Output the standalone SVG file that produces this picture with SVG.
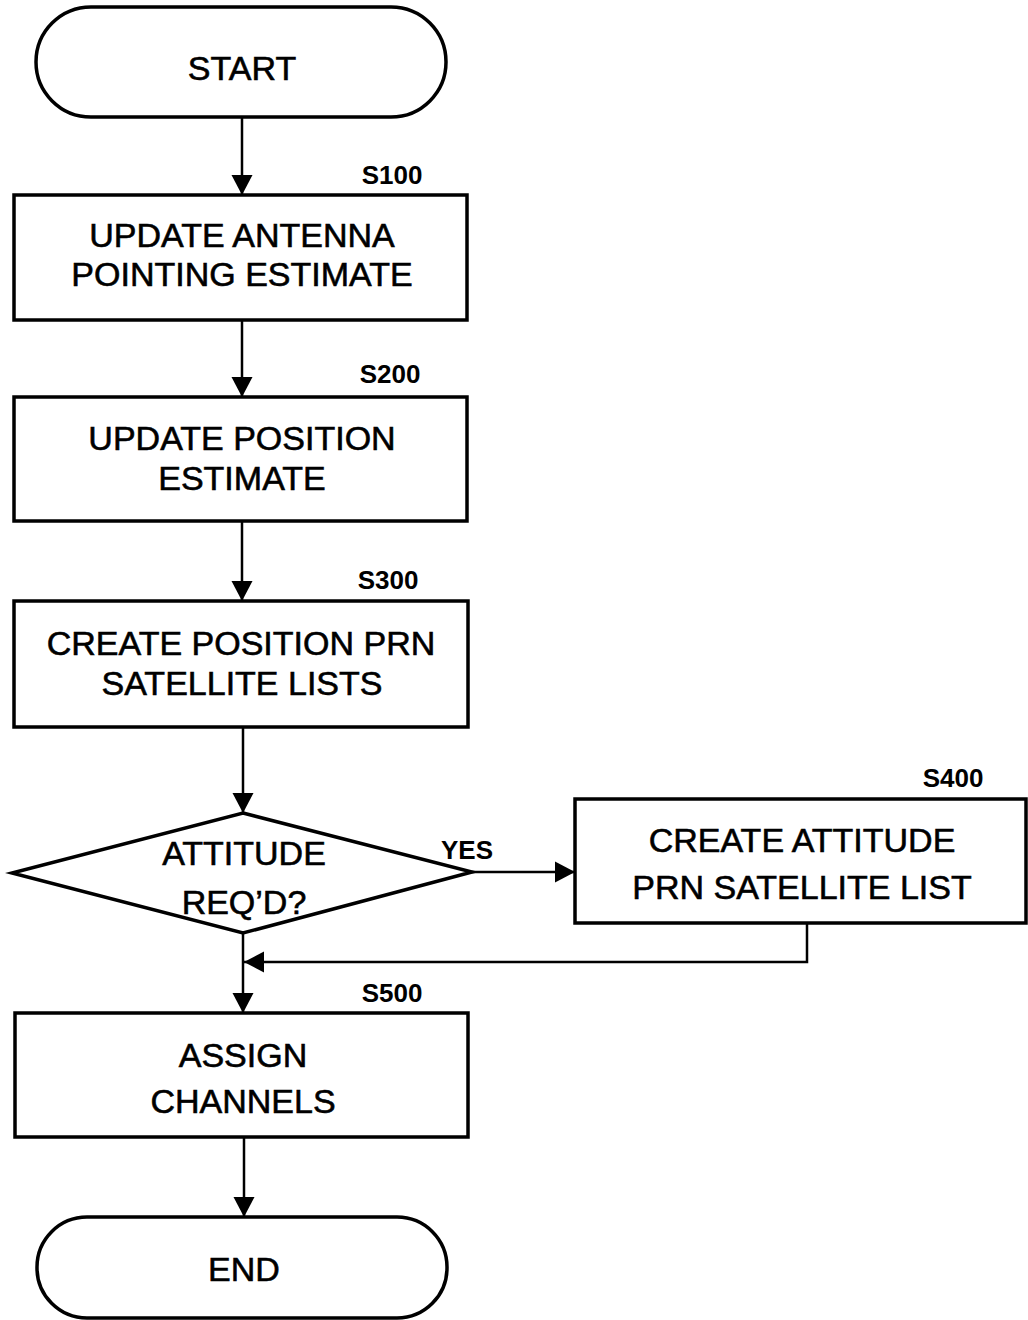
<svg xmlns="http://www.w3.org/2000/svg" width="1028" height="1320" viewBox="0 0 1028 1320">
<defs>
<marker id="ah" markerWidth="22" markerHeight="22" refX="20" refY="11" orient="auto" markerUnits="userSpaceOnUse">
<path d="M0,0.5 L20,11 L0,21.5 Z" fill="#000"/>
</marker>
</defs>
<style>
.shape{fill:#fff;stroke:#000;stroke-width:3.5}
.t{font-family:"Liberation Sans",Arial,sans-serif;font-size:34px;text-anchor:middle;fill:#000;stroke:#000;stroke-width:0.6}
.lbl{font-family:"Liberation Sans",Arial,sans-serif;font-size:26px;font-weight:bold;text-anchor:middle;fill:#000}
.c{fill:none;stroke:#000;stroke-width:2.5}
</style>
<rect width="1028" height="1320" fill="#fff"/>
<g id="connectors">
<line class="c" x1="242" y1="117" x2="242" y2="195" marker-end="url(#ah)"/>
<line class="c" x1="242" y1="320" x2="242" y2="397" marker-end="url(#ah)"/>
<line class="c" x1="242" y1="521" x2="242" y2="601" marker-end="url(#ah)"/>
<line class="c" x1="243" y1="727" x2="243" y2="813" marker-end="url(#ah)"/>
<line class="c" x1="472" y1="872" x2="575" y2="872" marker-end="url(#ah)"/>
<polyline class="c" points="807,923 807,962 244,962" marker-end="url(#ah)"/>
<line class="c" x1="243" y1="933" x2="243" y2="1013" marker-end="url(#ah)"/>
<line class="c" x1="244" y1="1137" x2="244" y2="1217" marker-end="url(#ah)"/>
<text class="lbl" x="467" y="859">YES</text>
</g>
<g id="start">
<rect class="shape" x="36" y="7" width="410" height="110" rx="55" ry="55"/>
<text class="t" x="242" y="80">START</text>
</g>
<g id="s100">
<rect class="shape" x="14" y="195" width="453" height="125"/>
<text class="lbl" x="392" y="184">S100</text>
<text class="t" x="242" y="247">UPDATE ANTENNA</text>
<text class="t" x="242" y="286">POINTING ESTIMATE</text>
</g>
<g id="s200">
<rect class="shape" x="14" y="397" width="453" height="124"/>
<text class="lbl" x="390" y="383">S200</text>
<text class="t" x="242" y="450">UPDATE POSITION</text>
<text class="t" x="242" y="490">ESTIMATE</text>
</g>
<g id="s300">
<rect class="shape" x="14" y="601" width="454" height="126"/>
<text class="lbl" x="388" y="589">S300</text>
<text class="t" x="241" y="655">CREATE POSITION PRN</text>
<text class="t" x="242" y="695">SATELLITE LISTS</text>
</g>
<g id="decision">
<polygon class="shape" points="243,813 472,872 243,933 12,873"/>
<text class="t" x="244" y="865">ATTITUDE</text>
<text class="t" x="244" y="914">REQ’D?</text>
</g>
<g id="s400">
<rect class="shape" x="575" y="799" width="451" height="124"/>
<text class="lbl" x="953" y="787">S400</text>
<text class="t" x="802" y="852">CREATE ATTITUDE</text>
<text class="t" x="802" y="899">PRN SATELLITE LIST</text>
</g>
<g id="s500">
<rect class="shape" x="15" y="1013" width="453" height="124"/>
<text class="lbl" x="392" y="1002">S500</text>
<text class="t" x="243" y="1067">ASSIGN</text>
<text class="t" x="243" y="1113">CHANNELS</text>
</g>
<g id="end">
<rect class="shape" x="37" y="1217" width="410" height="101" rx="50" ry="50"/>
<text class="t" x="244" y="1281">END</text>
</g>
</svg>
